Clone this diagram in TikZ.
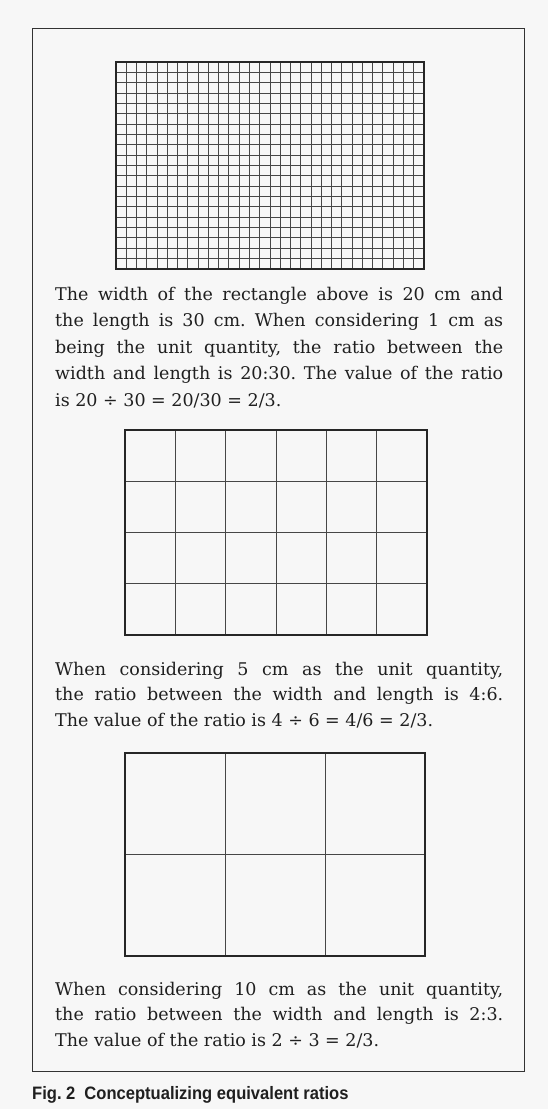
\documentclass[tikz,border=0pt]{standalone}
\usepackage{fontspec}
\setmainfont{DejaVu Serif}
\newfontfamily\capfont[FakeStretch=0.92]{Liberation Sans}
\usetikzlibrary{positioning}

% grid: x0, y0, x1, y1, columns, rows
\newcommand\ratiogrid[6]{%
  \foreach \i in {1,...,\numexpr#5-1\relax}
    \draw[gridline] ({#1+(#3-#1)*\i/#5},#2) -- ({#1+(#3-#1)*\i/#5},#4);
  \foreach \j in {1,...,\numexpr#6-1\relax}
    \draw[gridline] (#1,{#2+(#4-#2)*\j/#6}) -- (#3,{#2+(#4-#2)*\j/#6});
  \draw[gridborder] (#1,#2) rectangle (#3,#4);}

\begin{document}
\frenchspacing
\begin{tikzpicture}[x=1pt, y=-1pt,
  gridline/.style={line width=1pt, black!72},
  gridborder/.style={line width=1.7pt, black!85},
  para/.style={anchor=base west, inner sep=0pt, text width=448pt, align=justify,
    font=\fontsize{17.5}{26.5}\selectfont, text=black!88},
  caption/.style={anchor=base west, inner sep=0pt, font=\capfont\bfseries\fontsize{18}{20}\selectfont, text=black!88}]
\useasboundingbox[fill=black!3] (0,0) rectangle (548,1109);
\draw[line width=1.3pt, black!80] (32.5,28.5) rectangle (524.5,1071.5);

% 1 cm units
\ratiogrid{116}{62}{424}{269}{30}{20}
\node[para] (t1) at (55,300) {%
  The width of the rectangle above is 20 cm and\linebreak
  the length is 30 cm. When considering 1 cm as\linebreak
  being the unit quantity, the ratio between the\linebreak
  width and length is 20:30. The value of the ratio\linebreak
  is 20 ÷ 30 = 20/30 = 2/3.};

% 5 cm units
\ratiogrid{125}{430}{427}{635}{6}{4}
\node[para, font=\fontsize{17.5}{25.5}\selectfont] (t2) at (55,675) {%
  When considering 5 cm as the unit quantity,\linebreak
  the ratio between the width and length is 4:6.\linebreak
  The value of the ratio is 4 ÷ 6 = 4/6 = 2/3.};

% 10 cm units
\ratiogrid{125}{753}{425}{956}{3}{2}
\node[para, font=\fontsize{17.5}{25.5}\selectfont] (t3) at (55,995) {%
  When considering 10 cm as the unit quantity,\linebreak
  the ratio between the width and length is 2:3.\linebreak
  The value of the ratio is 2 ÷ 3 = 2/3.};

\node[caption] (cap) at (32,1099) {Fig. 2\hspace{0.5em}Conceptualizing equivalent ratios};
\end{tikzpicture}
\end{document}
